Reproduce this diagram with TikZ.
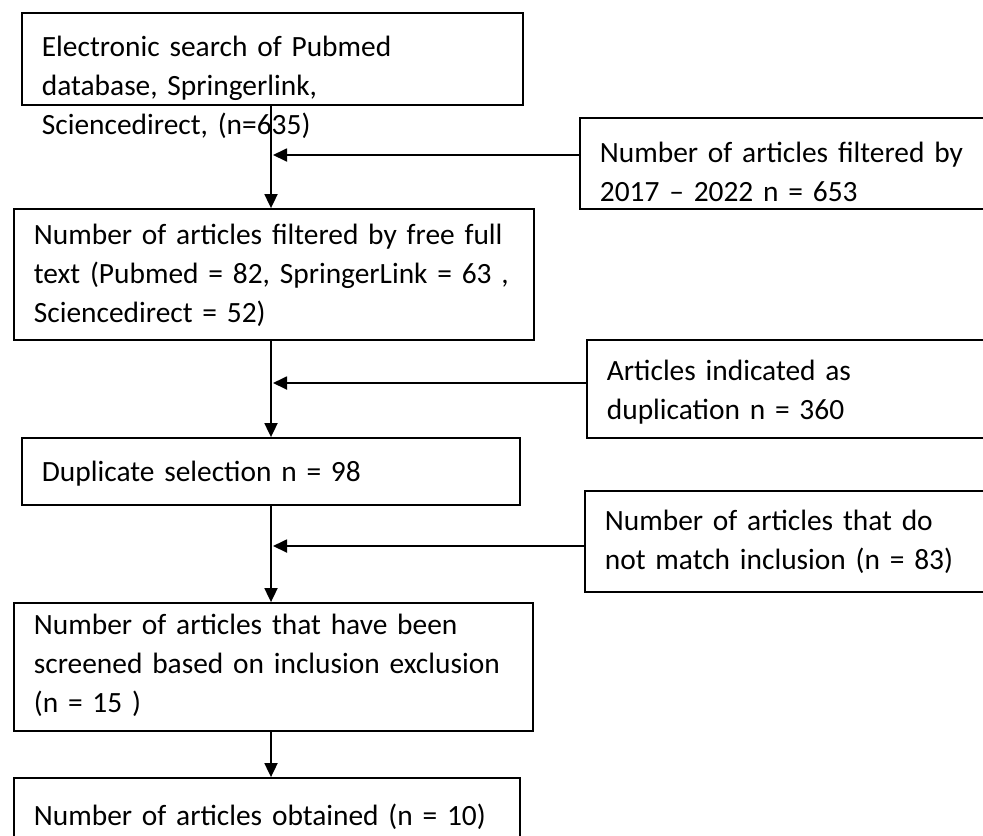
\documentclass[tikz,border=0pt]{standalone}
\usepackage{fontspec}
\setmainfont{Carlito}
\usetikzlibrary{arrows.meta}

\begin{document}
\begin{tikzpicture}[x=0.5pt, y=-0.5pt,
  box/.style={draw, line width=0.9pt, anchor=base west, align=left,
    inner xsep=10pt, inner ysep=0pt, font=\fontsize{14.7pt}{19.5pt}\selectfont},
  arr/.style={line width=0.9pt, -{Triangle[length=7pt, width=6.5pt]}}]
% Page area
\useasboundingbox (0,0) rectangle (983,835);
\clip (0,0) rectangle (983,835);

% Main column of boxes
\node[box, text width=230.5pt, text height=21.5pt, text depth=24.5pt] (search) at (21,56)
  {Electronic search of Pubmed\\database, Springerlink,\\Sciencedirect, (n=635)};
\node[box, text width=240pt, text height=17.5pt, text depth=48pt] (fulltext) at (13,244)
  {Number of articles filtered by free full\\\mbox{text (Pubmed = 82, SpringerLink = 63 ,}\\Sciencedirect = 52)};
\node[box, text width=229pt, text height=21.5pt, text depth=12pt] (dupsel) at (21,481)
  {Duplicate selection n = 98};
\node[box, text width=239.5pt, text height=15.5pt, text depth=48.5pt] (screened) at (13,634)
  {Number of articles that have been\\screened based on inclusion exclusion\\(n = 15 )};
\node[box, text width=233pt, text height=23.5pt, text depth=17.5pt] (obtained) at (13,825)
  {Number of articles obtained (n = 10)};

% Side boxes
\node[box, text width=200pt, text height=22pt, text depth=23.5pt] (years) at (579,162)
  {Number of articles filtered by\\2017 – 2022 n = 653};
\node[box, text width=200pt, text height=20pt, text depth=29pt] (dupl) at (586,380)
  {Articles indicated as\\duplication n = 360};
\node[box, text width=200pt, text height=19.5pt, text depth=31pt] (nomatch) at (584,530)
  {Number of articles that do\\not match inclusion (n = 83)};

% Spine and joins
\coordinate (spine) at (271,0);
\coordinate (j1) at (273,155);
\coordinate (j2) at (273,383);
\coordinate (j3) at (273,546);

% Arrows down
\draw[arr] (search.south -| spine) -- (fulltext.north -| spine);
\draw[arr] (fulltext.south -| spine) -- (dupsel.north -| spine);
\draw[arr] (dupsel.south -| spine) -- (screened.north -| spine);
\draw[arr] (screened.south -| spine) -- (obtained.north -| spine);

% Arrows in from the side
\draw[arr] (years.west |- j1) -- (j1);
\draw[arr] (dupl.west |- j2) -- (j2);
\draw[arr] (nomatch.west |- j3) -- (j3);
\end{tikzpicture}
\end{document}
